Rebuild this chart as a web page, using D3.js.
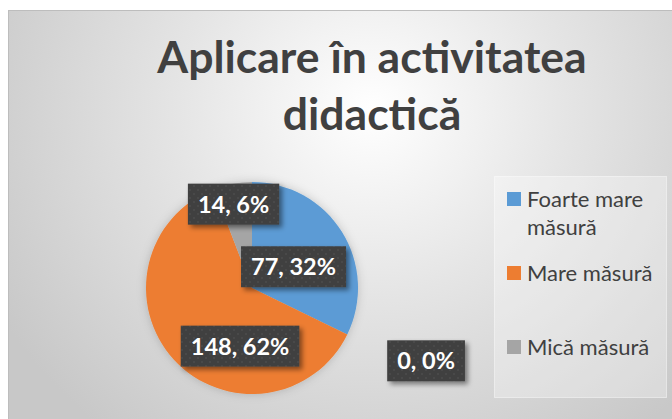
<!DOCTYPE html>
<html><head><meta charset="utf-8">
<script src="https://cdn.jsdelivr.net/npm/d3@7/dist/d3.min.js"></script>
<style>html,body{margin:0;padding:0;background:#fff;}svg{display:block;}</style>
</head><body>
<svg id="chart" width="672" height="419"></svg>
<script>
// ---- data ----
const title = ["Aplicare în activitatea", "didactică"];
const categories = ["Foarte mare măsură", "Mare măsură", "Mică măsură", ""];
const values = [77, 148, 14, 0];
const colors = ["#5B9BD5", "#ED7D31", "#A5A5A5", "#FFC000"];
const legendLines = [["Foarte mare", "măsură"], ["Mare măsură"], ["Mică măsură"]];
// label placement (angle in degrees clockwise from top, radius as fraction of pie radius)
const labelAngle = [62.9, 191.6, 347.6, 112.7];
const labelRadius = [0.44, 0.56, 0.81, 1.78];

const W = 672, H = 419;
const svg = d3.select("#chart");
const defs = svg.append("defs");

const bg = defs.append("radialGradient").attr("id","bg")
  .attr("gradientUnits","userSpaceOnUse").attr("cx",372).attr("cy",110).attr("r",430)
  .attr("gradientTransform","translate(372,110) scale(1,0.95) translate(-372,-110)");
bg.append("stop").attr("offset","0").attr("stop-color","#ffffff");
bg.append("stop").attr("offset","0.45").attr("stop-color","#e5e5e5");
bg.append("stop").attr("offset","1").attr("stop-color","#c8c8c8");

const pat = defs.append("pattern").attr("id","dots").attr("patternUnits","userSpaceOnUse")
  .attr("width",8).attr("height",8);
pat.append("rect").attr("width",8).attr("height",8).attr("fill","#404040");
pat.append("circle").attr("cx",2).attr("cy",2).attr("r",0.8).attr("fill","#555");
pat.append("circle").attr("cx",6).attr("cy",6).attr("r",0.8).attr("fill","#555");

const sh = defs.append("filter").attr("id","shadow").attr("x","-20%").attr("y","-20%").attr("width","150%").attr("height","160%");
sh.append("feDropShadow").attr("dx",3).attr("dy",3).attr("stdDeviation",2.5).attr("flood-color","#000").attr("flood-opacity",0.45);
const psh = defs.append("filter").attr("id","pshadow").attr("x","-20%").attr("y","-20%").attr("width","140%").attr("height","140%");
psh.append("feDropShadow").attr("dx",0).attr("dy",0).attr("stdDeviation",5).attr("flood-color","#000").attr("flood-opacity",0.18);

// chart area
svg.append("rect").attr("x",8.5).attr("y",10.5).attr("width",W).attr("height",H)
  .attr("fill","url(#bg)").attr("stroke","#bdbdbd").attr("stroke-width",1);

// title
const tg = svg.append("g").attr("font-family","Lato, 'Open Sans', sans-serif")
  .attr("font-weight","bold").attr("fill","#404040").attr("text-anchor","middle");
const titleY = [73, 130];
title.forEach((t,i)=>{
  tg.append("text").attr("x",372).attr("y",titleY[i]).attr("font-size",44.5).text(t);
});

// pie
const cx = 252, cy = 288, R = 106;
const pie = d3.pie().sort(null).value(d=>d)(values);
const arc = d3.arc().innerRadius(0).outerRadius(R);
const pg = svg.append("g").attr("transform",`translate(${cx},${cy})`).attr("filter","url(#pshadow)");
pg.selectAll("path").data(pie).join("path")
  .attr("d",arc).attr("fill",(d,i)=>colors[i]);

// data labels
const total = d3.sum(values);
const lg = svg.append("g").attr("font-family","Lato, 'Open Sans', sans-serif").attr("font-weight","bold");
pie.forEach((d,i)=>{
  const a = labelAngle[i]*Math.PI/180, rr = labelRadius[i]*R;
  const x = cx + Math.sin(a)*rr, y = cy - Math.cos(a)*rr;
  const txt = `${values[i]}, ${Math.round(values[i]/total*100)}%`;
  const g = lg.append("g");
  const t = g.append("text").attr("x",x).attr("y",y+8.5).attr("text-anchor","middle")
    .attr("font-size",23.5).attr("fill","#fff").text(txt);
  const bw = t.node().getComputedTextLength() + 20;
  g.insert("rect","text").attr("x",x-bw/2).attr("y",y-20.5).attr("width",bw).attr("height",41)
    .attr("fill","url(#dots)").attr("filter","url(#shadow)");
});

// legend
svg.append("rect").attr("x",494.5).attr("y",176.5).attr("width",172).attr("height",221)
  .attr("fill","#ffffff").attr("fill-opacity",0.3).attr("stroke","#ffffff").attr("stroke-opacity",0.45);
const leg = svg.append("g").attr("font-family","Lato, 'Open Sans', sans-serif").attr("fill","#404040").attr("font-size",22);
const legY = [192, 266, 340];
legendLines.forEach((lines,i)=>{
  leg.append("rect").attr("x",507).attr("y",legY[i]).attr("width",14).attr("height",14).attr("fill",colors[i]);
  lines.forEach((l,j)=>{
    leg.append("text").attr("x",527).attr("y",legY[i]+14.5+j*28).text(l);
  });
});
</script>
</body></html>
